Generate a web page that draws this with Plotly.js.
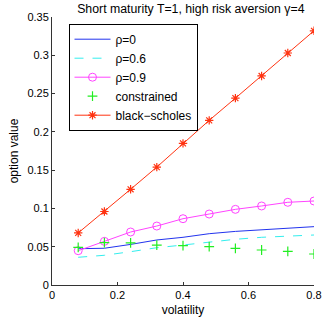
<!DOCTYPE html>
<html>
<head>
<meta charset="utf-8">
<script src="https://cdn.plot.ly/plotly-3.0.1.min.js"></script>
<style>html,body{margin:0;padding:0;background:#fff;}</style>
</head>
<body>
<div id="chart" style="width:324px;height:318px;"></div>
<script>
var volatility = [0.08, 0.16, 0.24, 0.32, 0.40, 0.48, 0.56, 0.64, 0.72, 0.80];
var rho0 = [0.0474, 0.0480, 0.0530, 0.0588, 0.0623, 0.0670, 0.0700, 0.0718, 0.0744, 0.0762];
var rho06 = [0.0362, 0.0388, 0.0435, 0.0487, 0.0522, 0.0560, 0.0597, 0.0623, 0.0636, 0.0653];
var rho09 = [0.0448, 0.0570, 0.0692, 0.0770, 0.0866, 0.0927, 0.0988, 0.1032, 0.1080, 0.1097];
var constrained = [0.0492, 0.0553, 0.0550, 0.0522, 0.0514, 0.0500, 0.0479, 0.0457, 0.0440, 0.0405];
var blackScholes = [0.068, 0.096, 0.125, 0.154, 0.185, 0.215, 0.244, 0.273, 0.303, 0.332];
var xTicks = [0, 0.2, 0.4, 0.6, 0.8];
var xTickLabels = ["0", "0.2", "0.4", "0.6", "0.8"];
var yTicks = [0, 0.05, 0.1, 0.15, 0.2, 0.25, 0.3, 0.35];
var yTickLabels = ["0", "0.05", "0.1", "0.15", "0.2", "0.25", "0.3", "0.35"];

var FONT = "Liberation Sans, Arial, sans-serif";

var traces = [
  {x: volatility, y: rho0, name: "ρ=0", mode: "lines",
   line: {color: "#2233ee", width: 1}},
  {x: volatility, y: rho06, name: "ρ=0.6", mode: "lines",
   line: {color: "#33eeee", width: 1, dash: "dash"}},
  {x: volatility, y: rho09, name: "ρ=0.9", mode: "lines+markers",
   line: {color: "#ff44ff", width: 1},
   marker: {symbol: "circle-open", size: 8, color: "#ff44ff", line: {width: 1, color: "#ff44ff"}}},
  {x: volatility, y: constrained, name: "constrained", mode: "markers",
   marker: {symbol: "cross-thin-open", size: 7, color: "#22ee22", line: {width: 1.2, color: "#22ee22"}}},
  {x: volatility, y: blackScholes, name: "black−scholes", mode: "lines+markers",
   line: {color: "#ff3311", width: 1},
   marker: {symbol: "asterisk-open", size: 7, color: "#ff3311", line: {width: 1.2, color: "#ff3311"}}}
];

var axisCommon = {
  showgrid: false, zeroline: false, showline: true, linecolor: "#333", linewidth: 1,
  ticks: "inside", ticklen: 3, tickcolor: "#333", mirror: false,
  tickfont: {family: FONT, size: 11, color: "#000"}
};

var layout = {
  width: 324, height: 318,
  margin: {l: 52, r: 10, t: 17, b: 33},
  paper_bgcolor: "#fff", plot_bgcolor: "#fff",
  font: {family: FONT, size: 12, color: "#000"},
  title: {text: "Short maturity T=1, high risk aversion γ=4", x: 0.53, xref: "paper", xanchor: "center",
          y: 0.972, yref: "container", yanchor: "middle",
          font: {family: FONT, size: 12.3, color: "#000"}},
  xaxis: Object.assign({}, axisCommon, {range: [0, 0.8], tickvals: xTicks, ticktext: xTickLabels,
          title: {text: "volatility", standoff: 5, font: {size: 12}}}),
  yaxis: Object.assign({}, axisCommon, {range: [0, 0.35], tickvals: yTicks, ticktext: yTickLabels,
          title: {text: "option value", standoff: 6, font: {size: 12}}}),
  showlegend: true,
  legend: {x: 0.063, y: 0.975, xanchor: "left", yanchor: "top",
           bgcolor: "#fff", bordercolor: "#000", borderwidth: 1,
           font: {family: FONT, size: 12},
           tracegroupgap: 0, itemwidth: 36}
};

Plotly.newPlot("chart", traces, layout, {staticPlot: true, displayModeBar: false});
</script>
</body>
</html>
